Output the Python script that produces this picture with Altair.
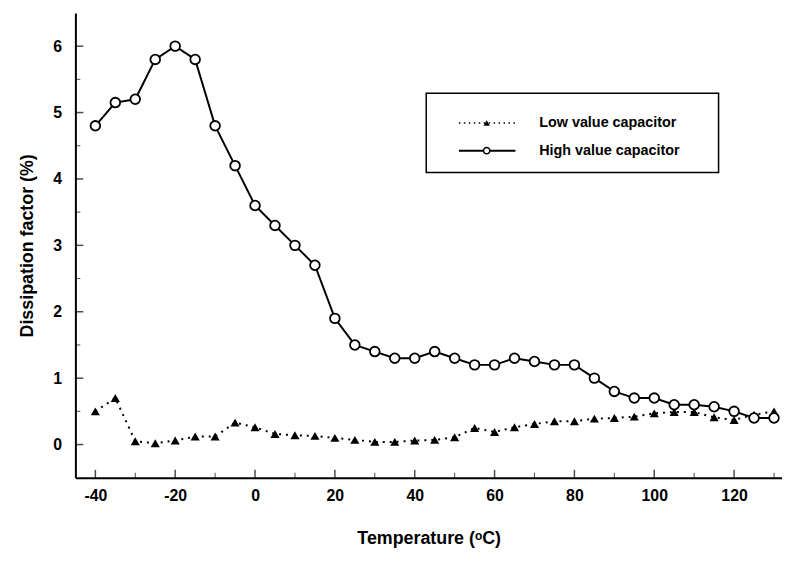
import altair as alt
import pandas as pd

temperature = [-40, -35, -30, -25, -20, -15, -10, -5, 0, 5, 10, 15, 20, 25, 30, 35, 40, 45,
               50, 55, 60, 65, 70, 75, 80, 85, 90, 95, 100, 105, 110, 115, 120, 125, 130]
low_value = [0.5, 0.7, 0.05, 0.02, 0.06, 0.12, 0.12, 0.33, 0.26, 0.16, 0.14, 0.13, 0.10, 0.07,
             0.04, 0.04, 0.06, 0.07, 0.11, 0.25, 0.19, 0.26, 0.31, 0.35, 0.35, 0.39, 0.40, 0.42,
             0.47, 0.49, 0.49, 0.41, 0.37, 0.45, 0.5]
high_value = [4.8, 5.15, 5.2, 5.8, 6.0, 5.8, 4.8, 4.2, 3.6, 3.3, 3.0, 2.7, 1.9, 1.5, 1.4, 1.3,
              1.3, 1.4, 1.3, 1.2, 1.2, 1.3, 1.25, 1.2, 1.2, 1.0, 0.8, 0.7, 0.7, 0.6, 0.6, 0.57,
              0.5, 0.4, 0.4]
series_names = ["Low value capacitor", "High value capacitor"]
x_ticks = [-40, -20, 0, 20, 40, 60, 80, 100, 120]
x_minor = [-30, -10, 10, 30, 50, 70, 90, 110, 130]
y_ticks = [0, 1, 2, 3, 4, 5, 6]
y_minor = [0.5, 1.5, 2.5, 3.5, 4.5, 5.5]

low_df = pd.DataFrame({"T": temperature, "D": low_value})
high_df = pd.DataFrame({"T": temperature, "D": high_value})

FONT = "Liberation Sans"
H = 469
x_scale = alt.Scale(domain=[-45, 132], nice=False, zero=False)
y_scale = alt.Scale(domain=[-0.5, 6.5], nice=False, zero=False)

x_enc = alt.X("T:Q", scale=x_scale, axis=alt.Axis(
    title="Temperature (ᵒC)", values=x_ticks, labelExpr="toString(datum.value)", grid=False, ticks=False,
    labelPadding=10, titlePadding=26, domainWidth=2,
    labelFontSize=16, titleFontSize=18, labelFont=FONT, titleFont=FONT,
    labelColor="black", titleColor="black", domainColor="black",
    labelFontWeight="bold", titleFontWeight="bold"))
y_enc = alt.Y("D:Q", scale=y_scale, axis=alt.Axis(
    title="Dissipation factor (%)", values=y_ticks, labelExpr="toString(datum.value)", grid=False, ticks=False,
    labelPadding=14, titlePadding=16, domainWidth=2,
    labelFontSize=16, titleFontSize=18, labelFont=FONT, titleFont=FONT,
    labelColor="black", titleColor="black", domainColor="black",
    labelFontWeight="bold", titleFontWeight="bold"))

# inward ticks (major and minor)
xt_major = alt.Chart(pd.DataFrame({"T": x_ticks})).mark_tick(color="black", thickness=1.5, size=8, orient="vertical").encode(
    x=alt.X("T:Q", scale=x_scale), y=alt.value(H - 4))
xt_minor = alt.Chart(pd.DataFrame({"T": x_minor})).mark_tick(color="black", thickness=1, size=5, orient="vertical").encode(
    x=alt.X("T:Q", scale=x_scale), y=alt.value(H - 2.5))
yt_major = alt.Chart(pd.DataFrame({"D": y_ticks})).mark_tick(color="black", thickness=1.5, size=8, orient="horizontal").encode(
    y=alt.Y("D:Q", scale=y_scale), x=alt.value(4))
yt_minor = alt.Chart(pd.DataFrame({"D": y_minor})).mark_tick(color="black", thickness=1, size=5, orient="horizontal").encode(
    y=alt.Y("D:Q", scale=y_scale), x=alt.value(2.5))

low_line = alt.Chart(low_df).mark_line(color="black", strokeWidth=2, strokeDash=[2, 5]).encode(x=x_enc, y=y_enc)
low_pts = alt.Chart(low_df).mark_point(shape="triangle-up", filled=True, color="black", size=85, opacity=1).encode(
    x=alt.X("T:Q", scale=x_scale), y=alt.Y("D:Q", scale=y_scale))
high_line = alt.Chart(high_df).mark_line(color="black", strokeWidth=2).encode(
    x=alt.X("T:Q", scale=x_scale), y=alt.Y("D:Q", scale=y_scale))
high_pts = alt.Chart(high_df).mark_point(shape="circle", filled=True, fill="white", stroke="black",
                                          strokeWidth=1.8, size=95, opacity=1).encode(
    x=alt.X("T:Q", scale=x_scale), y=alt.Y("D:Q", scale=y_scale))

# manual legend box
one = pd.DataFrame({"k": [0]})
box = alt.Chart(one).mark_rect(fill="white", stroke="black", strokeWidth=1.5).encode(
    x=alt.value(354), x2=alt.value(649), y=alt.value(81), y2=alt.value(161))
leg_low_line = alt.Chart(one).mark_rule(color="black", strokeWidth=1.5, strokeDash=[1.5, 3.5]).encode(
    x=alt.value(387), x2=alt.value(444), y=alt.value(111))
leg_low_pt = alt.Chart(one).mark_point(shape="triangle-up", filled=True, color="black", size=40, opacity=1).encode(
    x=alt.value(415), y=alt.value(111))
leg_high_line = alt.Chart(one).mark_rule(color="black", strokeWidth=2).encode(
    x=alt.value(387), x2=alt.value(444), y=alt.value(139))
leg_high_pt = alt.Chart(one).mark_point(shape="circle", filled=True, fill="white", stroke="black",
                                         strokeWidth=1.5, size=40, opacity=1).encode(
    x=alt.value(415), y=alt.value(139))
text_style = dict(align="left", baseline="middle", font=FONT, fontSize=14.5, fontWeight="bold", color="black")
leg_text_low = alt.Chart(one).mark_text(text=series_names[0], **text_style).encode(
    x=alt.value(468), y=alt.value(111))
leg_text_high = alt.Chart(one).mark_text(text=series_names[1], **text_style).encode(
    x=alt.value(468), y=alt.value(139))

chart = alt.layer(
    low_line, low_pts, high_line, high_pts, xt_major, xt_minor, yt_major, yt_minor,
    box, leg_low_line, leg_high_line, leg_low_pt, leg_high_pt, leg_text_low, leg_text_high
).properties(
    width=713, height=H, background="white",
    autosize=alt.AutoSizeParams(type="none"),
    padding={"left": 68, "top": 2.5, "right": 0, "bottom": 80},
).configure_view(stroke=None)

chart.save("out.html", embed_options={"renderer": "svg", "actions": False})
